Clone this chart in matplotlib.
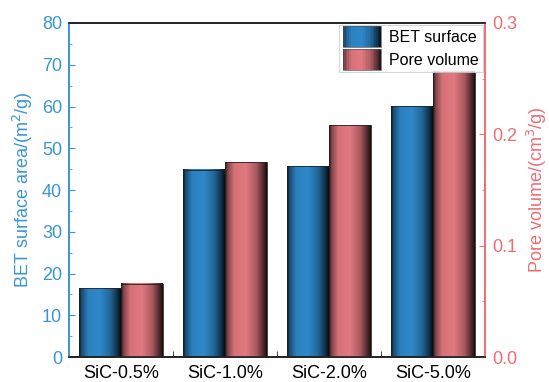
import numpy as np
import matplotlib
matplotlib.use("Agg")
import matplotlib.pyplot as plt
from matplotlib.patches import Rectangle
from matplotlib.legend_handler import HandlerBase
from matplotlib.ticker import MultipleLocator, FixedLocator, FormatStrFormatter

plt.rcParams['font.family'] = ['Liberation Sans', 'DejaVu Sans']

categories = ["SiC-0.5%", "SiC-1.0%", "SiC-2.0%", "SiC-5.0%"]
bet_surface = [16.5, 44.8, 45.7, 60.1]        # m2/g
pore_volume = [0.0656, 0.175, 0.208, 0.256]   # cm3/g

BLUE = np.array([46, 136, 202]) / 255
PINK = np.array([226, 120, 128]) / 255
AX_BLUE = "#3a96d2"
AX_PINK = "#eb6e74"

# cylinder-like shading across each bar
_t = np.linspace(0, 1, 64)
_shade = np.interp(_t, [0, 0.05, 0.22, 0.5, 0.75, 0.92, 1.0],
                   [0.15, 0.55, 0.95, 1.0, 0.75, 0.35, 0.12])


def gradient_img(base):
    return (base[None, :] * _shade[:, None])[None, :, :]


def shaded_bar(ax, x0, width, height, base):
    ax.imshow(gradient_img(base), extent=(x0, x0 + width, 0, height),
              aspect='auto', origin='lower', zorder=2, interpolation='bilinear')
    ax.add_patch(Rectangle((x0, 0), width, height, fill=False,
                           edgecolor='#222222', lw=0.6, zorder=3))


class ShadedHandler(HandlerBase):
    def __init__(self, base):
        super().__init__()
        self.base = base

    def create_artists(self, legend, orig_handle, xdescent, ydescent,
                       width, height, fontsize, trans):
        arts = []
        n = 24
        for i in range(n):
            s = np.interp((i + 0.5) / n, _t, _shade)
            r = Rectangle((-xdescent + width * i / n, -ydescent - height * 0.25),
                          width / n + 0.3, height * 1.5,
                          facecolor=self.base * s, edgecolor='none',
                          transform=trans)
            arts.append(r)
        arts.append(Rectangle((-xdescent, -ydescent - height * 0.25), width,
                              height * 1.5, fill=False, edgecolor='#555555',
                              lw=0.5, transform=trans))
        return arts


fig = plt.figure(figsize=(5.49, 3.82), dpi=100)
ax = fig.add_axes([0.1257, 0.0654, 0.7577, 0.8744])
ax2 = ax.twinx()

x = np.arange(1, len(categories) + 1)
w = 0.4
for xi, b, p in zip(x, bet_surface, pore_volume):
    shaded_bar(ax, xi - w, w, b, BLUE)
    shaded_bar(ax2, xi, w, p, PINK)

ax.set_xlim(0.5, 4.5)
ax.set_ylim(0, 80)
ax2.set_xlim(0.5, 4.5)
ax2.set_ylim(0, 0.3)

ax.set_xticks(x)
ax.set_xticklabels(categories, fontsize=13)
ax.xaxis.set_minor_locator(FixedLocator([1.5, 2.5, 3.5]))
ax.tick_params(axis='x', which='major', length=0, pad=5.5)
ax.tick_params(axis='x', which='minor', direction='in', length=4, color='#222222')

ax.yaxis.set_major_locator(MultipleLocator(10))
ax.yaxis.set_minor_locator(MultipleLocator(5))
ax.tick_params(axis='y', which='both', direction='in', colors=AX_BLUE,
               labelsize=13, pad=5)
ax.tick_params(axis='y', which='major', length=4)
ax.tick_params(axis='y', which='minor', length=2.5)

ax2.yaxis.set_major_locator(MultipleLocator(0.1))
ax2.yaxis.set_minor_locator(MultipleLocator(0.05))
ax2.yaxis.set_major_formatter(FormatStrFormatter('%.1f'))
ax2.tick_params(axis='y', which='both', direction='in', colors=AX_PINK,
                labelsize=13, pad=5)
ax2.tick_params(axis='y', which='major', length=4)
ax2.tick_params(axis='y', which='minor', length=2.5)

for a in (ax, ax2):
    a.spines['top'].set_color('#222222')
    a.spines['bottom'].set_color('#222222')
    a.spines['left'].set_color(AX_BLUE)
    a.spines['right'].set_color(AX_PINK)
    for s in a.spines.values():
        s.set_linewidth(1.2)

ax.set_ylabel("BET surface area/(m$^2$/g)", color=AX_BLUE, fontsize=13, labelpad=5)
ax2.set_ylabel("Pore volume/(cm$^3$/g)", color=AX_PINK, fontsize=13,
               rotation=90, labelpad=6)

h1 = Rectangle((0, 0), 1, 1)
h2 = Rectangle((0, 0), 1, 1)
leg = ax2.legend([h1, h2], ["BET surface", "Pore volume"],
                 handler_map={h1: ShadedHandler(BLUE), h2: ShadedHandler(PINK)},
                 loc='upper right', fontsize=11.5, frameon=True, fancybox=False,
                 borderaxespad=0.15, handlelength=2.4, handleheight=1.0,
                 labelspacing=0.45, handletextpad=0.5, borderpad=0.25)
leg.get_frame().set_edgecolor('#cccccc')
leg.get_frame().set_linewidth(0.8)

fig.savefig("out.png", dpi=100)
